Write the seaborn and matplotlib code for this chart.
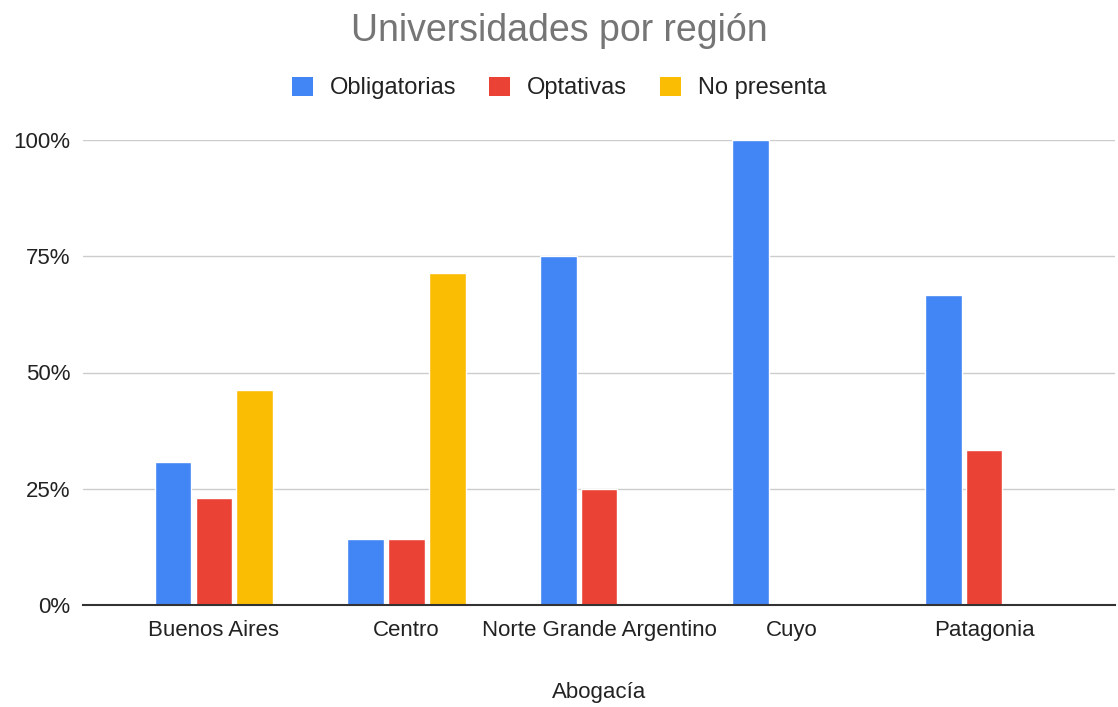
import pandas as pd
import matplotlib
matplotlib.use("Agg")
import matplotlib.pyplot as plt
import seaborn as sns
from matplotlib.ticker import PercentFormatter
from matplotlib.patches import Patch

# data (shares per region)
regiones = ["Buenos Aires", "Centro", "Norte Grande Argentino", "Cuyo", "Patagonia"]
obligatorias = [0.308, 0.143, 0.75, 1.0, 0.667]
optativas = [0.231, 0.143, 0.25, 0.0, 0.333]
no_presenta = [0.462, 0.714, 0.0, 0.0, 0.0]
series = ["Obligatorias", "Optativas", "No presenta"]
colores = ["#4285F4", "#EA4335", "#FBBC04"]
yticks = [0, 0.25, 0.5, 0.75, 1.0]

df = pd.DataFrame({"region": regiones,
                   "Obligatorias": obligatorias,
                   "Optativas": optativas,
                   "No presenta": no_presenta})
df = df.melt(id_vars="region", var_name="tipo", value_name="valor")

sns.set_theme(style="white")
plt.rcParams["font.family"] = ["Liberation Sans", "DejaVu Sans"]

fig = plt.figure(figsize=(11.18, 7.07), dpi=100)
ax = fig.add_axes([83 / 1118, 1 - 605 / 707, (1115 - 83) / 1118, (605 - 140) / 707])

sns.barplot(data=df, x="region", y="valor", hue="tipo", hue_order=series,
            palette=colores, width=0.637, gap=0.1, errorbar=None,
            saturation=1, legend=False, ax=ax, zorder=3)

ax.set_ylim(0, 1.0)
ax.set_xlim(-0.68, 4.68)
ax.set_yticks(yticks)
ax.yaxis.set_major_formatter(PercentFormatter(1.0, decimals=0))
ax.grid(axis="y", color="#cccccc", linewidth=1, zorder=0)
ax.grid(axis="x", visible=False)
for s in ["top", "right", "left"]:
    ax.spines[s].set_visible(False)
ax.spines["bottom"].set_color("#333333")
ax.spines["bottom"].set_linewidth(1.5)
ax.spines["bottom"].set_zorder(4)
ax.tick_params(axis="both", length=0, labelsize=16, colors="#222222")
ax.tick_params(axis="y", pad=9)
ax.tick_params(axis="x", pad=11)
ax.set_ylabel("")
ax.set_xlabel("Abogacía", fontsize=16, color="#222222", labelpad=29)

fig.text(0.5, 1 - 31 / 707, "Universidades por región", ha="center", va="center",
         fontsize=27, color="#757575")

handles = [Patch(facecolor=c, edgecolor="none", label=s) for s, c in zip(series, colores)]
fig.legend(handles=handles, loc="center", bbox_to_anchor=(0.5, 1 - 88 / 707), ncol=3,
           frameon=False, fontsize=17, handlelength=0.9, handleheight=0.9,
           handletextpad=0.7, columnspacing=1.4, labelcolor="#222222")

fig.savefig("out.png", dpi=100, facecolor="white")
